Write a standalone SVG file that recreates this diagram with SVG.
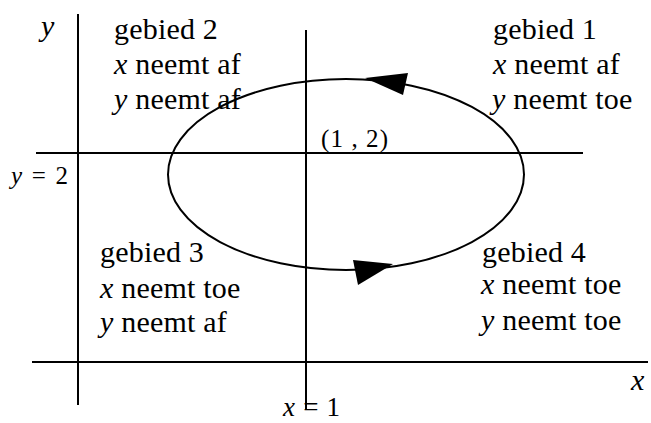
<svg xmlns="http://www.w3.org/2000/svg" width="651" height="423" viewBox="0 0 651 423">
<style>
.ln{stroke:#000;stroke-width:2;fill:none}
.t{font-size:30px;letter-spacing:0.2px;fill:#000}
.s{font-size:25px;letter-spacing:0}
.m{font-size:25px;letter-spacing:0}
.b{font-size:27px;letter-spacing:0}
.i{font-style:italic}
.ah{fill:#000;stroke:none}
</style>
<rect width="651" height="423" fill="#fff"/>
<g id="connectors">
<line class="ln" x1="78" y1="14" x2="78" y2="405"/>
<line class="ln" x1="306" y1="30" x2="306" y2="409"/>
<line class="ln" x1="36" y1="153" x2="583" y2="153"/>
<line class="ln" x1="32" y1="362" x2="648" y2="362"/>
<ellipse class="ln" cx="346" cy="174.5" rx="178" ry="95.5"/>
<polygon class="ah" points="365,78 408,73 403,95"/>
<polygon class="ah" points="393,264 353,260 358,285"/>
</g>
<g font-family="'Liberation Serif', 'DejaVu Serif', 'Times New Roman', serif">
<g id="axis-labels">
<text class="t i" x="41" y="36">y</text>
<text class="t i" x="631" y="390">x</text>
<text class="t m" x="11" y="184" textLength="57" lengthAdjust="spacing"><tspan class="i">y</tspan> = 2</text>
<text class="t b" x="283" y="416" textLength="57" lengthAdjust="spacing"><tspan class="i">x</tspan> = 1</text>
<text class="t s" x="321" y="147" textLength="67" lengthAdjust="spacing">(1 , 2)</text>
</g>
<g id="gebied2">
<text class="t" x="114" y="39">gebied 2</text>
<text class="t" x="114" y="74"><tspan class="i">x</tspan> neemt af</text>
<text class="t" x="114" y="109"><tspan class="i">y</tspan> neemt af</text>
</g>
<g id="gebied1">
<text class="t" x="493" y="39">gebied 1</text>
<text class="t" x="493" y="74"><tspan class="i">x</tspan> neemt af</text>
<text class="t" x="492" y="109"><tspan class="i">y</tspan> neemt toe</text>
</g>
<g id="gebied3">
<text class="t" x="100" y="262">gebied 3</text>
<text class="t" x="100" y="298"><tspan class="i">x</tspan> neemt toe</text>
<text class="t" x="100" y="332"><tspan class="i">y</tspan> neemt af</text>
</g>
<g id="gebied4">
<text class="t" x="482" y="262">gebied 4</text>
<text class="t" x="481" y="294"><tspan class="i">x</tspan> neemt toe</text>
<text class="t" x="481" y="330"><tspan class="i">y</tspan> neemt toe</text>
</g>
</g>
</svg>
